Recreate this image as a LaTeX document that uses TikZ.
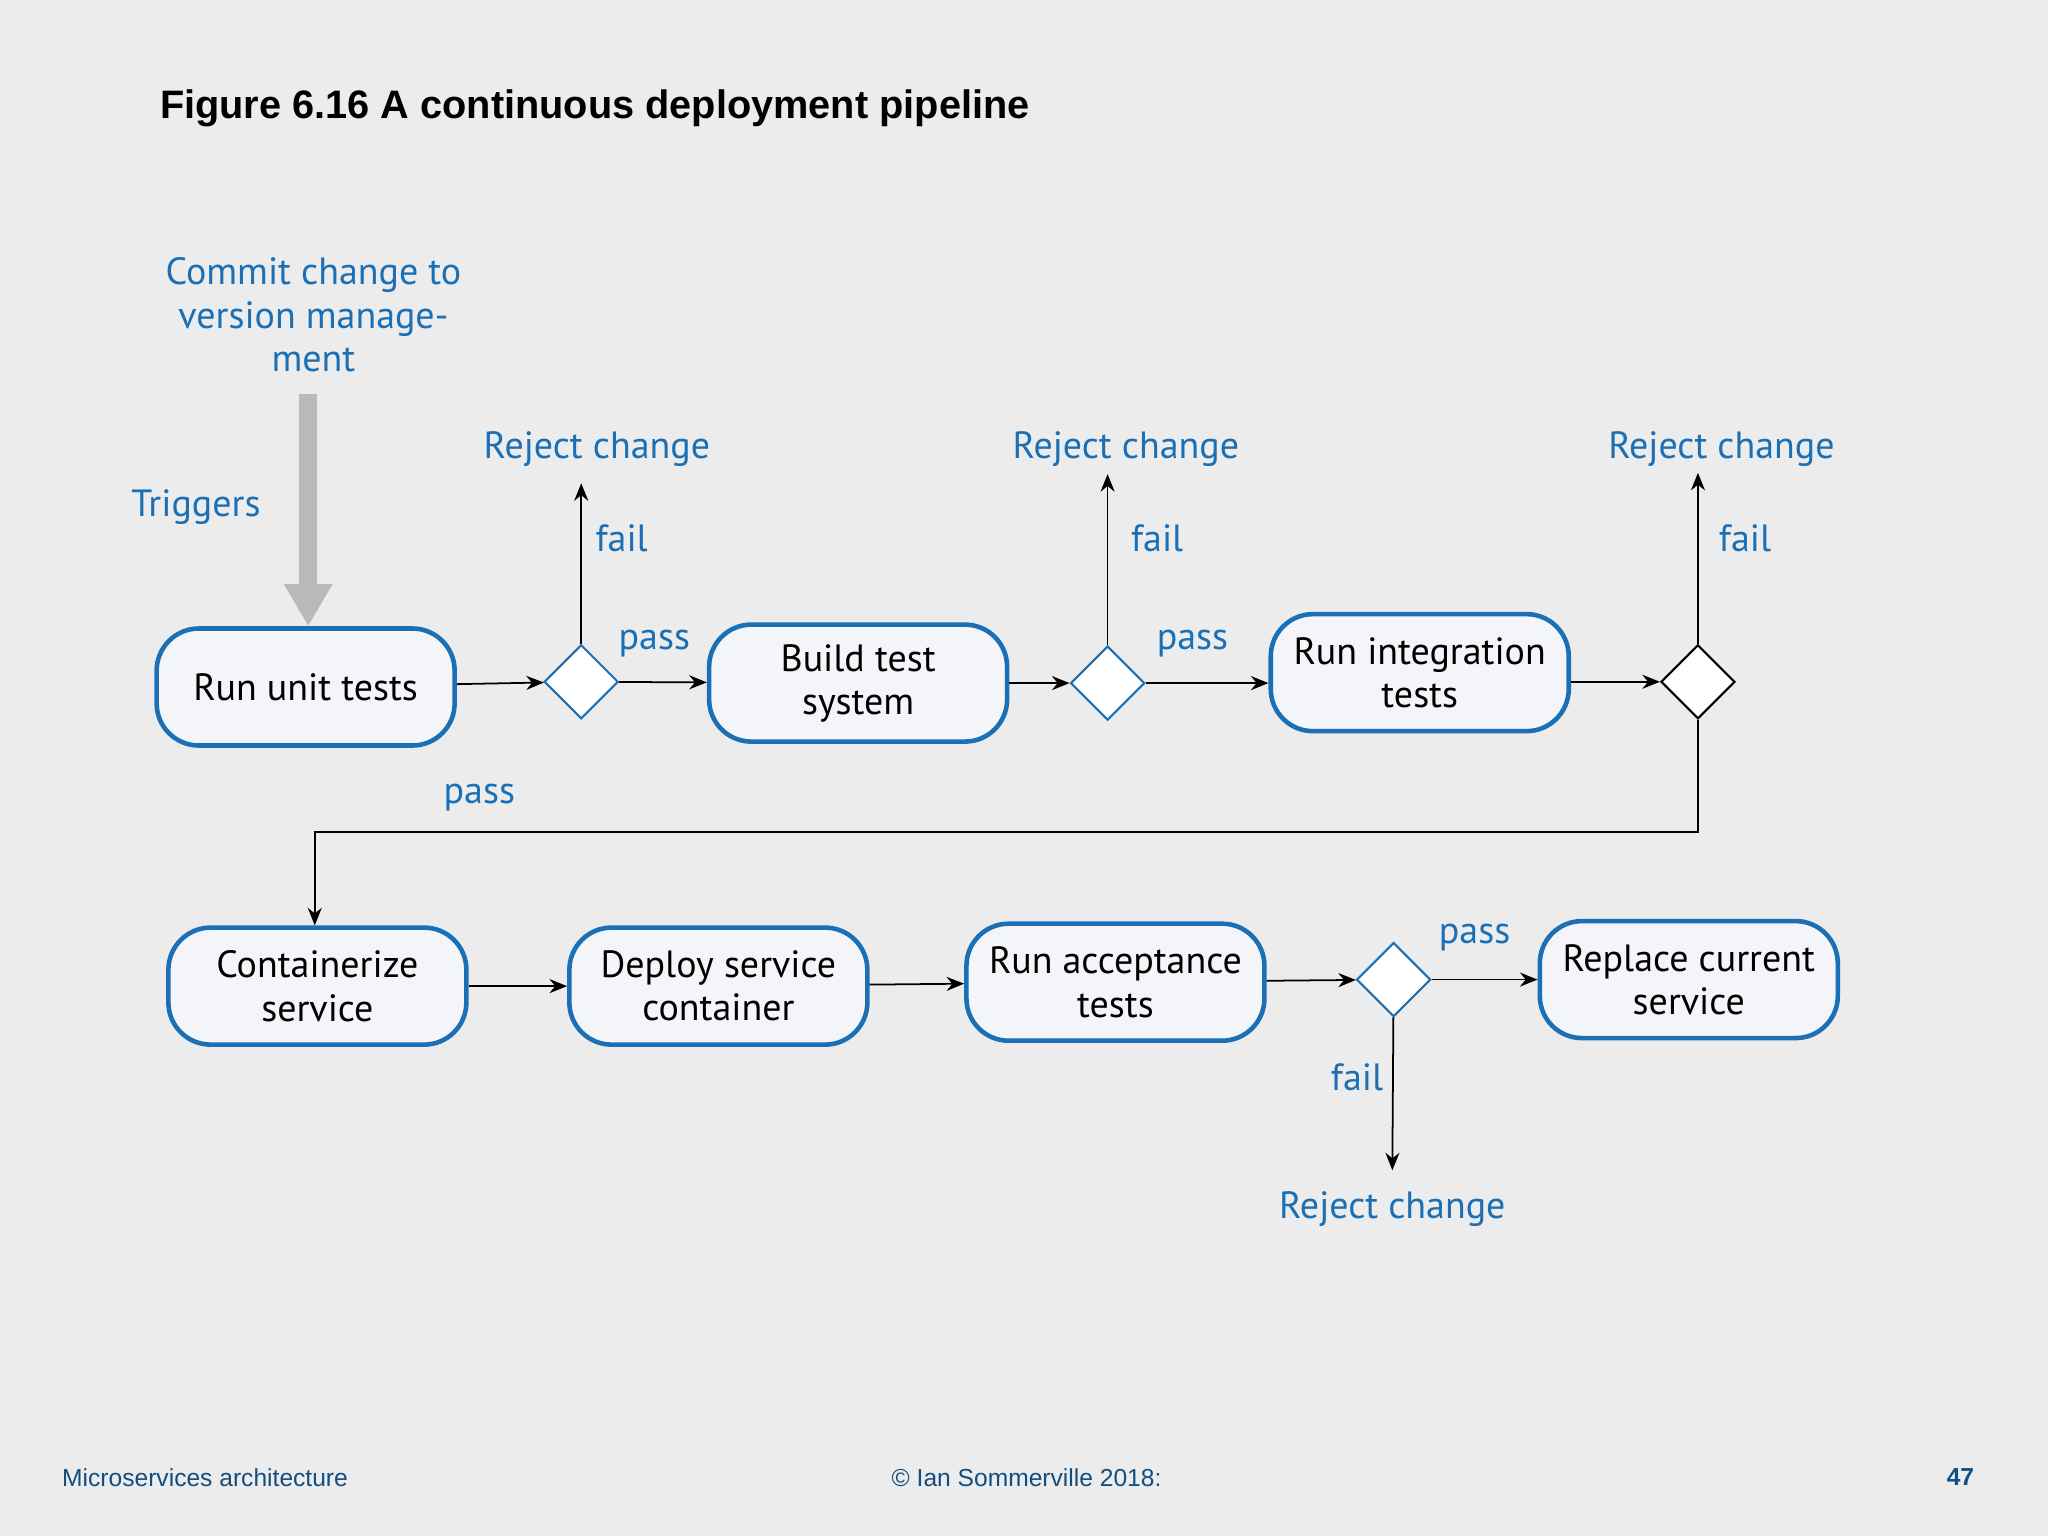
\documentclass[tikz,border=0pt]{standalone}
\usepackage{fontspec}
\setmainfont{PT Sans}
\newfontfamily\arial{Liberation Sans}
\usetikzlibrary{shapes.geometric,arrows.meta}
\definecolor{bl}{HTML}{1A6FB5}
\definecolor{bg}{HTML}{ECECEC}
\definecolor{bx}{HTML}{F3F5F8}
\begin{document}
\begin{tikzpicture}[x=0.013061cm,y=-0.013061cm,
  box/.style={draw=bl,line width=1.3pt,fill=bx,rounded corners=12pt,minimum width=2.98cm,minimum height=1.17cm,align=center,font=\fontsize{10.8}{12.3}\selectfont,inner sep=1pt},
  dia/.style={diamond,draw=bl,fill=white,line width=0.6pt,minimum width=0.74cm,minimum height=0.74cm,inner sep=0pt},
  lab/.style={text=bl,font=\fontsize{10.8}{12.3}\selectfont,align=center},
  arr/.style={-{Stealth[length=5pt,width=4pt]},line width=0.5pt}]
\fill[bg] (0,0) rectangle (1568,1176);
\useasboundingbox (0,0) rectangle (1568,1176);
\node[anchor=west,inner sep=0pt,font=\arial\bfseries\fontsize{11.3}{13}\selectfont] (title) at (122,83) {Figure 6.16 A continuous deployment pipeline};
\node[box] (b1) at (234,526) {Run unit tests};
\node[dia] (d1) at (445,522) {};
\node[box] (b2) at (657,523) {Build test\\system};
\node[dia] (d2) at (848,523) {};
\node[box] (b3) at (1087,515) {Run integration\\tests};
\node[dia,draw=black] (d3) at (1300,522) {};
\node[box] (b4) at (243,755) {Containerize\\service};
\node[box] (b5) at (550,755) {Deploy service\\container};
\node[box] (b6) at (854,752) {Run acceptance\\tests};
\node[dia] (d4) at (1067,750) {};
\node[box] (b7) at (1293,750) {Replace current\\service};
\node[lab] (commit) at (240,241) {Commit change to\\version manage-\\ment};
\node[lab] (trig) at (150,388) {Triggers};
\coordinate (g1) at (236,302);
\draw[line width=5.2pt,draw=gray!55,-{Triangle[length=12pt,width=13pt]}] (g1) -- (b1.north -| g1);
\node[lab] (r1) at (457,344) {Reject change};
\node[lab] (r2) at (862,344) {Reject change};
\node[lab] (r3) at (1318,344) {Reject change};
\node[lab] (r4) at (1066,926) {Reject change};
\node[lab] at (476,412) {fail};
\node[lab] at (886,412) {fail};
\node[lab] at (1336,412) {fail};
\node[lab] at (1039,825) {fail};
\node[lab] at (501,493) {pass};
\node[lab] at (913,493) {pass};
\node[lab] at (367,611) {pass};
\node[lab] at (1129,718) {pass};
\coordinate (t1) at (445,370); \coordinate (t2) at (848,363); \coordinate (t3) at (1300,362); \coordinate (t4) at (1066,896);
\draw[arr] (b1) -- (d1);
\draw[arr] (d1) -- (b2);
\draw[arr] (b2) -- (d2);
\draw[arr] (d2) -- (b3.west |- d2);
\draw[arr] (b3.east |- d3) -- (d3);
\draw[arr] (d1) -- (t1);
\draw[arr] (d2) -- (t2);
\draw[arr] (d3) -- (t3);
\draw[arr] (d3.south) -- (1300,637) -- (241,637) -- (b4.north -| 241,0);
\draw[arr] (b4) -- (b5);
\draw[arr] (b5) -- (b6);
\draw[arr] (b6) -- (d4);
\draw[arr] (d4) -- (b7);
\draw[arr] (d4) -- (t4);
\node[font=\arial\fontsize{7}{8}\selectfont,text=bl!70!black] (f1) at (157,1131) {Microservices architecture};
\node[font=\arial\fontsize{7}{8}\selectfont,text=bl!70!black] (f2) at (786,1131) {© Ian Sommerville 2018:};
\node[font=\arial\bfseries\fontsize{7}{8}\selectfont,text=bl!70!black] (f3) at (1501,1131) {47};
\end{tikzpicture}
\end{document}
